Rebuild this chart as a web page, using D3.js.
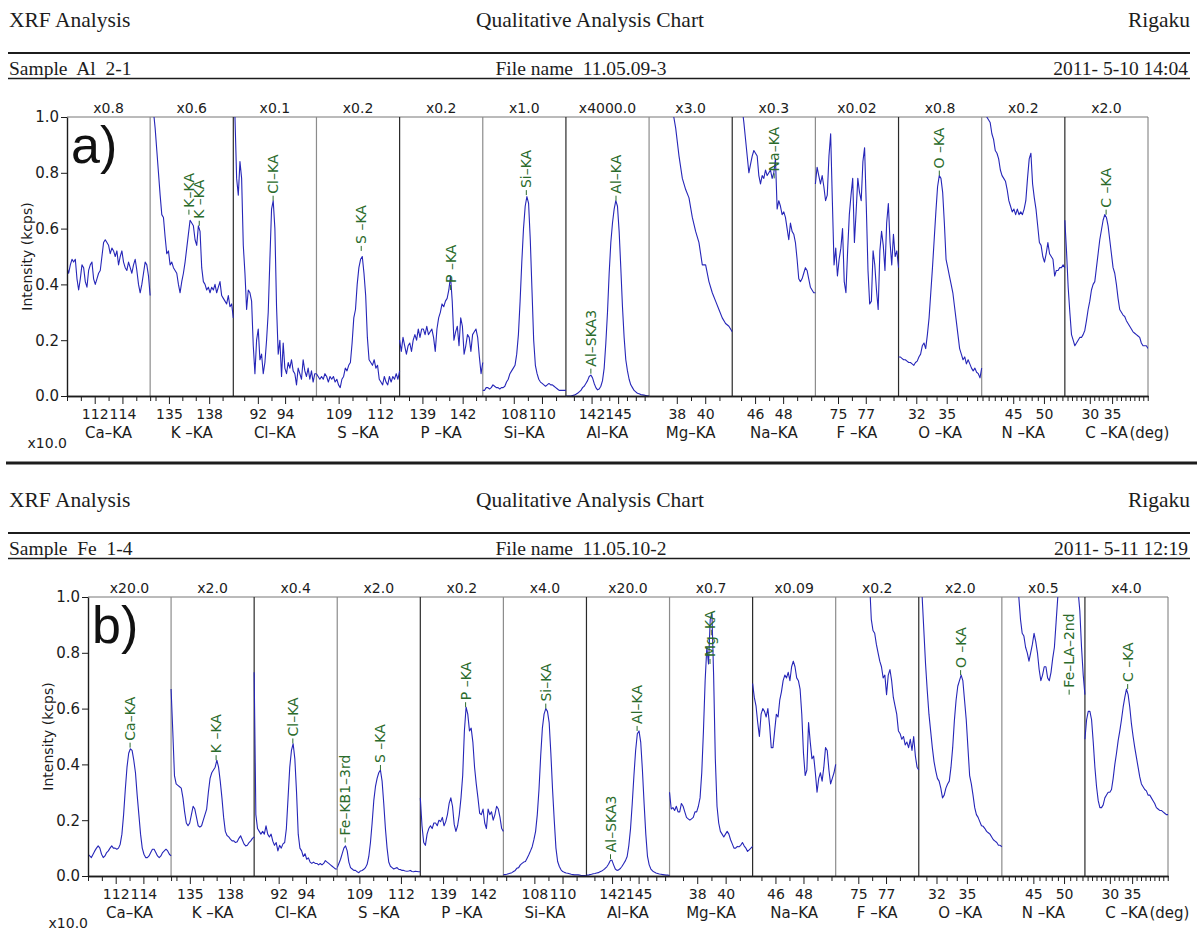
<!DOCTYPE html>
<html>

<head>
  <meta charset="utf-8">
  <title>XRF Qualitative Analysis</title>
  <style type="text/css">
    body {
      margin: 0;
      background: #fff;
    }
  </style>
</head>

<body>
  <svg id="chart" width="1197" height="931"></svg>
  <script type="text/javascript" src="https://cdn.jsdelivr.net/npm/d3@7"></script>
  <script type="text/javascript">
    // scan channels, 2-theta window of each (deg) and the labelled ticks
    var channels = ["Ca–KA", "K –KA", "Cl–KA", "S –KA", "P –KA", "Si–KA", "Al–KA",
      "Mg–KA", "Na–KA", "F –KA", "O –KA", "N –KA", "C –KA"];
    var domains = [[110, 116], [133.6, 139.8], [90.2, 96.3], [107.4, 113.4], [137.3, 143.5],
      [105.8, 111.7], [139.1, 148.5], [36.05, 41.9], [44.37, 50.3], [73.37, 79.36],
      [30.25, 38.45], [39.87, 53.4], [24.4, 43.06]];
    var tickLabels = [[112, 114], [135, 138], [92, 94], [109, 112], [139, 142], [108, 110],
      [142, 145], [38, 40], [46, 48], [75, 77], [32, 35], [45, 50], [30, 35]];

    var multA = ["x0.8", "x0.6", "x0.1", "x0.2", "x0.2", "x1.0", "x4000.0", "x3.0", "x0.3", "x0.02", "x0.8", "x0.2", "x2.0"];
    var multB = ["x20.0", "x2.0", "x0.4", "x2.0", "x0.2", "x4.0", "x20.0", "x0.7", "x0.09", "x0.2", "x2.0", "x0.5", "x4.0"];

    // sample Al 2-1 : intensity (kcps x10) over each scan window, evenly stepped
    var aCa = [0.46, 0.44, 0.47, 0.49, 0.48, 0.49, 0.42, 0.38, 0.42, 0.47, 0.46, 0.41, 0.39, 0.45, 0.47, 0.48, 0.42, 0.40, 0.42, 0.44,
      0.45, 0.50, 0.55, 0.56, 0.55, 0.54, 0.51, 0.53, 0.52, 0.50, 0.52, 0.47, 0.50, 0.52, 0.48, 0.46, 0.45, 0.48, 0.46, 0.44,
      0.47, 0.49, 0.45, 0.40, 0.37, 0.40, 0.44, 0.48, 0.47, 0.43, 0.36];
    var aK = [1.15, 1.08, 1.02, 0.96, 0.88, 0.80, 0.72, 0.65, 0.64, 0.57, 0.51, 0.52, 0.47, 0.48, 0.46, 0.45, 0.44, 0.40, 0.37, 0.41,
      0.44, 0.48, 0.53, 0.58, 0.63, 0.62, 0.61, 0.56, 0.54, 0.61, 0.59, 0.46, 0.41, 0.40, 0.38, 0.39, 0.37, 0.39, 0.38, 0.40,
      0.37, 0.39, 0.41, 0.36, 0.35, 0.34, 0.33, 0.36, 0.32, 0.33, 0.28];
    var aCl = [1.3, 1.0, 0.78, 0.72, 0.84, 0.78, 0.54, 0.44, 0.31, 0.38, 0.37, 0.34, 0.18, 0.08, 0.20, 0.24, 0.13, 0.15, 0.08, 0.12,
      0.20, 0.30, 0.49, 0.67, 0.70, 0.60, 0.32, 0.15, 0.20, 0.07, 0.19, 0.10, 0.08, 0.12, 0.10, 0.13, 0.09, 0.08, 0.04, 0.10,
      0.08, 0.06, 0.13, 0.09, 0.07, 0.10, 0.06, 0.09, 0.05, 0.08, 0.08];
    var aS = [0.08, 0.07, 0.06, 0.07, 0.06, 0.08, 0.07, 0.05, 0.07, 0.06, 0.07, 0.05, 0.06, 0.04, 0.03, 0.06, 0.07, 0.10, 0.09, 0.11,
      0.12, 0.19, 0.28, 0.31, 0.40, 0.46, 0.49, 0.50, 0.44, 0.36, 0.21, 0.13, 0.12, 0.11, 0.13, 0.10, 0.11, 0.06, 0.05, 0.04,
      0.07, 0.05, 0.04, 0.07, 0.05, 0.07, 0.06, 0.08, 0.06, 0.09];
    var aP = [0.20, 0.16, 0.21, 0.18, 0.15, 0.18, 0.19, 0.16, 0.20, 0.22, 0.20, 0.24, 0.21, 0.24, 0.24, 0.22, 0.25, 0.22, 0.23, 0.24,
      0.21, 0.16, 0.24, 0.28, 0.30, 0.33, 0.32, 0.34, 0.35, 0.38, 0.43, 0.34, 0.20, 0.23, 0.25, 0.18, 0.28, 0.25, 0.15, 0.18,
      0.22, 0.21, 0.16, 0.22, 0.23, 0.24, 0.21, 0.14, 0.08, 0.12];
    var aSi = [0.02, 0.02, 0.03, 0.03, 0.025, 0.03, 0.04, 0.035, 0.03, 0.03, 0.025, 0.03, 0.03, 0.035, 0.05, 0.06, 0.08, 0.09, 0.10, 0.11,
      0.15, 0.22, 0.34, 0.48, 0.60, 0.68, 0.715, 0.69, 0.56, 0.38, 0.20, 0.11, 0.08, 0.06, 0.05, 0.045, 0.04, 0.035, 0.04, 0.045,
      0.04, 0.04, 0.035, 0.03, 0.025, 0.02, 0.02, 0.02, 0.02, 0.02];
    var aAl = [0.0, 0.0, 0.0, 0.0, 0.002, 0.003, 0.006, 0.01, 0.015, 0.02, 0.03, 0.035, 0.045, 0.055, 0.07, 0.075, 0.065, 0.045, 0.03, 0.022,
      0.025, 0.035, 0.055, 0.10, 0.19, 0.30, 0.44, 0.55, 0.62, 0.67, 0.70, 0.68, 0.59, 0.46, 0.32, 0.21, 0.13, 0.09, 0.06, 0.04,
      0.03, 0.02, 0.015, 0.01, 0.008, 0.005, 0.004, 0.003, 0.002, 0.001, 0.0];
    var aMg = [1.8, 1.65, 1.5, 1.38, 1.27, 1.17, 1.09, 1.03, 0.96, 0.86, 0.78, 0.74, 0.71, 0.64, 0.59, 0.55, 0.47, 0.47, 0.41, 0.37,
      0.34, 0.31, 0.28, 0.26, 0.25, 0.23];
    var aNa = [1.25, 1.18, 1.12, 1.1, 1.06, 1.08, 1.03, 0.98, 0.92, 0.86, 0.80, 0.83, 0.86, 0.88, 0.87, 0.86, 0.79, 0.76, 0.79, 0.78,
      0.81, 0.79, 0.80, 0.81, 0.78, 0.80, 0.85, 0.67, 0.70, 0.68, 0.65, 0.66, 0.64, 0.60, 0.56, 0.62, 0.59, 0.58, 0.55, 0.49,
      0.42, 0.41, 0.42, 0.44, 0.46, 0.45, 0.42, 0.39, 0.38, 0.37, 0.37];
    var aF = [0.76, 0.82, 0.79, 0.76, 0.79, 0.75, 0.70, 0.72, 0.86, 0.94, 0.70, 0.47, 0.53, 0.43, 0.49, 0.53, 0.60, 0.41, 0.37, 0.52,
      0.65, 0.72, 0.78, 0.55, 0.66, 0.78, 0.73, 0.70, 0.84, 0.89, 0.68, 0.45, 0.33, 0.34, 0.52, 0.47, 0.38, 0.31, 0.52, 0.59,
      0.54, 0.45, 0.62, 0.69, 0.55, 0.47, 0.58, 0.50, 0.52, 0.46];
    var aO = [0.14, 0.14, 0.135, 0.13, 0.13, 0.125, 0.12, 0.12, 0.115, 0.11, 0.12, 0.125, 0.14, 0.15, 0.18, 0.19, 0.17, 0.22, 0.28, 0.37,
      0.46, 0.56, 0.66, 0.75, 0.79, 0.78, 0.73, 0.62, 0.49, 0.46, 0.43, 0.40, 0.37, 0.32, 0.27, 0.22, 0.17, 0.15, 0.13, 0.14,
      0.115, 0.13, 0.115, 0.10, 0.09, 0.10, 0.085, 0.08, 0.065, 0.10];
    var aN = [1.2, 1.12, 1.05, 1.0, 0.99, 0.98, 0.94, 0.92, 0.88, 0.87, 0.85, 0.81, 0.79, 0.78, 0.77, 0.74, 0.70, 0.68, 0.66, 0.67,
      0.65, 0.67, 0.65, 0.66, 0.65, 0.67, 0.70, 0.78, 0.85, 0.87, 0.76, 0.71, 0.67, 0.61, 0.55, 0.54, 0.50, 0.48, 0.51, 0.55,
      0.51, 0.50, 0.49, 0.43, 0.45, 0.45, 0.46, 0.46, 0.47, 0.46];
    var aC = [0.63, 0.52, 0.39, 0.30, 0.22, 0.20, 0.18, 0.19, 0.20, 0.21, 0.21, 0.22, 0.235, 0.27, 0.31, 0.34, 0.38, 0.40, 0.41, 0.46,
      0.51, 0.56, 0.595, 0.63, 0.65, 0.64, 0.61, 0.56, 0.51, 0.46, 0.44, 0.40, 0.35, 0.31, 0.30, 0.29, 0.285, 0.27, 0.26, 0.25,
      0.24, 0.23, 0.225, 0.22, 0.215, 0.21, 0.19, 0.18, 0.18, 0.18, 0.17];

    // sample Fe 1-4
    var bCa = [0.078, 0.072, 0.066, 0.078, 0.09, 0.10, 0.108, 0.10, 0.078, 0.066, 0.072, 0.084, 0.09, 0.10, 0.108, 0.10, 0.10, 0.096, 0.10, 0.114,
      0.15, 0.22, 0.31, 0.39, 0.44, 0.456, 0.45, 0.415, 0.37, 0.29, 0.22, 0.15, 0.10, 0.078, 0.066, 0.066, 0.072, 0.084, 0.096, 0.096,
      0.084, 0.072, 0.066, 0.072, 0.084, 0.09, 0.096, 0.09, 0.078, 0.072];
    var bK = [0.67, 0.52, 0.36, 0.33, 0.325, 0.32, 0.315, 0.28, 0.23, 0.19, 0.18, 0.19, 0.22, 0.25, 0.24, 0.21, 0.18, 0.175, 0.18, 0.20,
      0.22, 0.24, 0.30, 0.35, 0.37, 0.38, 0.39, 0.415, 0.39, 0.34, 0.28, 0.21, 0.16, 0.145, 0.14, 0.132, 0.126, 0.126, 0.12, 0.123,
      0.135, 0.144, 0.13, 0.115, 0.108, 0.11, 0.12, 0.126, 0.135, 0.14];
    var bCl = [0.73, 0.22, 0.17, 0.16, 0.15, 0.16, 0.15, 0.18, 0.15, 0.14, 0.15, 0.125, 0.11, 0.12, 0.09, 0.11, 0.10, 0.115, 0.12, 0.17,
      0.28, 0.39, 0.45, 0.474, 0.42, 0.30, 0.15, 0.10, 0.09, 0.07, 0.08, 0.06, 0.065, 0.05, 0.045, 0.05, 0.045, 0.045, 0.04, 0.045,
      0.04, 0.045, 0.055, 0.05, 0.045, 0.04, 0.035, 0.03, 0.025, 0.025];
    var bS = [0.03, 0.045, 0.06, 0.08, 0.10, 0.108, 0.09, 0.05, 0.03, 0.025, 0.02, 0.02, 0.015, 0.012, 0.018, 0.02, 0.024, 0.03, 0.042, 0.07,
      0.12, 0.19, 0.27, 0.32, 0.35, 0.37, 0.38, 0.34, 0.26, 0.17, 0.10, 0.05, 0.035, 0.03, 0.025, 0.028, 0.03, 0.024, 0.023, 0.02,
      0.02, 0.018, 0.017, 0.018, 0.02, 0.016, 0.015, 0.017, 0.016, 0.015, 0.015];
    var bP = [0.28, 0.18, 0.12, 0.11, 0.15, 0.17, 0.18, 0.17, 0.19, 0.19, 0.18, 0.20, 0.195, 0.21, 0.18, 0.195, 0.22, 0.26, 0.28, 0.25,
      0.185, 0.16, 0.18, 0.22, 0.28, 0.36, 0.52, 0.605, 0.58, 0.52, 0.53, 0.48, 0.39, 0.33, 0.28, 0.225, 0.22, 0.24, 0.19, 0.17,
      0.24, 0.22, 0.23, 0.20, 0.22, 0.25, 0.24, 0.21, 0.17, 0.16];
    var bSi = [0.005, 0.005, 0.006, 0.008, 0.01, 0.012, 0.016, 0.02, 0.028, 0.03, 0.04, 0.045, 0.05, 0.052, 0.064, 0.076, 0.09, 0.105, 0.13, 0.16,
      0.22, 0.31, 0.43, 0.53, 0.58, 0.60, 0.59, 0.55, 0.44, 0.31, 0.20, 0.10, 0.052, 0.034, 0.022, 0.016, 0.013, 0.011, 0.01, 0.008,
      0.006, 0.005, 0.004, 0.004, 0.004, 0.003, 0.002, 0.002, 0.002, 0.001];
    var bAl = [0.003, 0.003, 0.005, 0.006, 0.008, 0.009, 0.011, 0.012, 0.015, 0.018, 0.022, 0.027, 0.033, 0.042, 0.055, 0.057, 0.04, 0.025, 0.02, 0.022,
      0.027, 0.035, 0.045, 0.055, 0.07, 0.11, 0.17, 0.26, 0.36, 0.45, 0.51, 0.52, 0.48, 0.38, 0.26, 0.15, 0.07, 0.04, 0.025, 0.018,
      0.014, 0.011, 0.009, 0.007, 0.006, 0.005, 0.004, 0.003, 0.003, 0.002];
    var bMg = [0.30, 0.24, 0.245, 0.235, 0.25, 0.23, 0.23, 0.26, 0.25, 0.23, 0.21, 0.205, 0.20, 0.205, 0.21, 0.23, 0.23, 0.25, 0.28, 0.37,
      0.52, 0.70, 0.82, 0.76, 0.92, 0.94, 0.72, 0.42, 0.25, 0.19, 0.16, 0.15, 0.14, 0.15, 0.16, 0.15, 0.13, 0.115, 0.10, 0.10,
      0.106, 0.105, 0.11, 0.12, 0.108, 0.10, 0.088, 0.094, 0.10, 0.106];
    var bNa = [0.69, 0.64, 0.61, 0.55, 0.50, 0.58, 0.60, 0.59, 0.57, 0.60, 0.54, 0.46, 0.46, 0.52, 0.58, 0.57, 0.63, 0.66, 0.70, 0.72,
      0.71, 0.73, 0.70, 0.75, 0.77, 0.75, 0.71, 0.70, 0.67, 0.58, 0.44, 0.36, 0.38, 0.55, 0.48, 0.42, 0.43, 0.37, 0.30, 0.35,
      0.37, 0.34, 0.39, 0.46, 0.45, 0.38, 0.33, 0.35, 0.37, 0.40];
    var bF = [3.0, 2.8, 2.6, 2.4, 2.2, 2.0, 1.85, 1.7, 1.6, 1.5, 1.42, 1.36, 1.3, 1.25, 1.21, 1.18, 1.15, 1.12, 1.1, 1.08,
      1.05, 0.92, 0.88, 0.87, 0.83, 0.80, 0.77, 0.75, 0.71, 0.72, 0.65, 0.72, 0.74, 0.70, 0.64, 0.61, 0.58, 0.52, 0.51, 0.49,
      0.50, 0.47, 0.48, 0.46, 0.49, 0.45, 0.50, 0.43, 0.39, 0.38];
    var bO = [1.4, 1.15, 1.0, 0.88, 0.76, 0.665, 0.58, 0.52, 0.46, 0.41, 0.377, 0.35, 0.34, 0.315, 0.28, 0.29, 0.315, 0.33, 0.34, 0.39,
      0.46, 0.557, 0.63, 0.68, 0.70, 0.72, 0.70, 0.63, 0.56, 0.46, 0.36, 0.33, 0.29, 0.245, 0.22, 0.21, 0.195, 0.18, 0.178, 0.17,
      0.16, 0.155, 0.15, 0.14, 0.13, 0.125, 0.12, 0.11, 0.11, 0.105];
    var bN = [2.0, 1.85, 1.72, 1.6, 1.5, 1.4, 1.3, 1.2, 1.12, 1.06, 1.0, 0.92, 0.87, 0.86, 0.82, 0.80, 0.77, 0.80, 0.83, 0.87,
      0.84, 0.80, 0.74, 0.70, 0.72, 0.75, 0.75, 0.71, 0.70, 0.73, 0.78, 0.82, 0.91, 1.0, 1.1, 1.2, 1.3, 1.35, 1.4, 1.4,
      1.38, 1.35, 1.3, 1.2, 1.1, 1.02, 0.95, 0.82, 0.72, 0.65];
    var bC = [0.49, 0.56, 0.59, 0.59, 0.56, 0.48, 0.39, 0.32, 0.27, 0.245, 0.245, 0.255, 0.28, 0.29, 0.30, 0.30, 0.31, 0.35, 0.40, 0.44,
      0.485, 0.52, 0.56, 0.605, 0.64, 0.67, 0.65, 0.605, 0.545, 0.50, 0.46, 0.425, 0.39, 0.355, 0.33, 0.32, 0.31, 0.305, 0.29, 0.29,
      0.28, 0.27, 0.26, 0.245, 0.24, 0.235, 0.235, 0.23, 0.225, 0.22, 0.22];

    var spectraA = [aCa, aK, aCl, aS, aP, aSi, aAl, aMg, aNa, aF, aO, aN, aC];
    var spectraB = [bCa, bK, bCl, bS, bP, bSi, bAl, bMg, bNa, bF, bO, bN, bC];

    // identified lines: channel index, name, angle (deg), marker height
    var peaksA = [
      { ch: 1, text: "K–KA", deg: 136.49, v: 0.65 },
      { ch: 1, text: "K –KA", deg: 137.26, v: 0.61 },
      { ch: 2, text: "Cl–KA", deg: 93.12, v: 0.70 },
      { ch: 3, text: "S –KA", deg: 110.63, v: 0.52 },
      { ch: 4, text: "P –KA", deg: 141.1, v: 0.38 },
      { ch: 5, text: "Si–KA", deg: 108.89, v: 0.72 },
      { ch: 6, text: "Al–SKA3", deg: 141.92, v: 0.08 },
      { ch: 6, text: "Al–KA", deg: 144.76, v: 0.70 },
      { ch: 8, text: "Na–KA", deg: 47.36, v: 0.78 },
      { ch: 10, text: "O –KA", deg: 34.27, v: 0.79 },
      { ch: 12, text: "C –KA", deg: 33.66, v: 0.65 }
    ];
    var peaksB = [
      { ch: 0, text: "Ca–KA", deg: 113.04, v: 0.46 },
      { ch: 1, text: "K –KA", deg: 136.96, v: 0.415 },
      { ch: 2, text: "Cl–KA", deg: 93.04, v: 0.475 },
      { ch: 3, text: "Fe–KB1–3rd", deg: 107.97, v: 0.12 },
      { ch: 3, text: "S –KA", deg: 110.52, v: 0.38 },
      { ch: 4, text: "P –KA", deg: 140.68, v: 0.605 },
      { ch: 5, text: "Si–KA", deg: 108.81, v: 0.60 },
      { ch: 6, text: "Al–SKA3", deg: 141.82, v: 0.06 },
      { ch: 6, text: "Al–KA", deg: 144.83, v: 0.52 },
      { ch: 7, text: "Mg–KA", deg: 38.9, v: 0.76 },
      { ch: 10, text: "O –KA", deg: 34.38, v: 0.72 },
      { ch: 11, text: "Fe–LA–2nd", deg: 50.83, v: 0.65 },
      { ch: 12, text: "C –KA", deg: 34.0, v: 0.67 }
    ];

    var FONT = "'DejaVu Sans', Verdana, sans-serif",
      SERIF = "'Liberation Serif', 'Times New Roman', serif",
      BLUE = "#2626b8",
      GREEN = "#2b6b2b",
      INK = "#1c1c1c";

    var panels = [
      { tag: "a)", sample: "Sample  Al  2-1", file: "File name  11.05.09-3", date: "2011- 5-10 14:04",
        mult: multA, spectra: spectraA, peaks: peaksA, top: 117, bottom: 396, left: 67, right: 1148, shift: 0 },
      { tag: "b)", sample: "Sample  Fe  1-4", file: "File name  11.05.10-2", date: "2011- 5-11 12:19",
        mult: multB, spectra: spectraB, peaks: peaksB, top: 597, bottom: 876, left: 88, right: 1168, shift: 480 }
    ];

    var svg = d3.select("#chart");

    function label(g, x, y, s, size, anchor, family) {
      return g.append("text")
        .attr("x", x)
        .attr("y", y)
        .attr("font-size", size)
        .attr("font-family", family || FONT)
        .attr("text-anchor", anchor || "start")
        .attr("fill", INK)
        .style("white-space", "pre")
        .text(s);
    }

    function hline(g, x1, x2, y, color, width) {
      g.append("line").attr("x1", x1).attr("x2", x2).attr("y1", y).attr("y2", y)
        .attr("stroke", color).attr("stroke-width", width);
    }

    panels.forEach(drawPanel);

    // rule between the two sheets
    hline(svg, 6, 1197, 463, INK, 3);

    function drawPanel(p, k) {
      var g = svg.append("g");
      var h = p.shift;

      // sheet header
      label(g, 9, h + 27, "XRF Analysis", 21.5, "start", SERIF);
      label(g, 590, h + 27, "Qualitative Analysis Chart", 21.5, "middle", SERIF);
      label(g, 1190, h + 27, "Rigaku", 21.5, "end", SERIF);
      hline(g, 8, 1190, h + 53, INK, 2);
      label(g, 9, h + 75, p.sample, 19.5, "start", SERIF);
      label(g, 581, h + 75, p.file, 19.5, "middle", SERIF);
      label(g, 1188, h + 75, p.date, 19.5, "end", SERIF);
      hline(g, 8, 1190, h + 78.5, INK, 1.5);

      var n = channels.length;
      var cw = (p.right - p.left) / n;
      var y = d3.scaleLinear().domain([0, 1]).range([p.bottom, p.top]);
      var xs = domains.map(function (dom, i) {
        return d3.scaleLinear().domain(dom).range([p.left + i * cw, p.left + (i + 1) * cw]);
      });

      var clipId = "plot" + k;
      g.append("clipPath").attr("id", clipId).append("rect")
        .attr("x", p.left).attr("y", p.top)
        .attr("width", p.right - p.left).attr("height", p.bottom - p.top);

      // frame and window dividers
      hline(g, p.left, p.right, p.top, "#777", 1);
      g.append("line").attr("x1", p.right).attr("x2", p.right).attr("y1", p.top).attr("y2", p.bottom)
        .attr("stroke", "#777").attr("stroke-width", 1);
      d3.range(1, n).forEach(function (i) {
        var xx = p.left + i * cw;
        g.append("line").attr("x1", xx).attr("x2", xx).attr("y1", p.top).attr("y2", p.bottom)
          .attr("stroke", i % 2 ? "#8c8c8c" : "#2a2a2a").attr("stroke-width", 1.2);
      });

      // spectra
      p.spectra.forEach(function (vals, i) {
        var dom = domains[i], step = (dom[1] - dom[0]) / (vals.length - 1);
        var line = d3.line()
          .x(function (v, j) { return xs[i](dom[0] + j * step); })
          .y(function (v) { return y(v); });
        g.append("path")
          .attr("d", line(vals))
          .attr("fill", "none")
          .attr("stroke", BLUE)
          .attr("stroke-width", 1.1)
          .attr("stroke-linejoin", "round")
          .attr("clip-path", "url(#" + clipId + ")");
      });

      // line identification markers
      p.peaks.forEach(function (pk) {
        var px = xs[pk.ch](pk.deg), py = y(pk.v);
        g.append("line").attr("x1", px).attr("x2", px).attr("y1", py).attr("y2", py - 5)
          .attr("stroke", GREEN).attr("stroke-width", 1);
        g.append("text")
          .attr("transform", "translate(" + px + "," + (py - 7) + ") rotate(-90)")
          .attr("dy", "0.36em")
          .attr("font-size", 14)
          .attr("font-family", FONT)
          .attr("fill", GREEN)
          .text(pk.text);
      });

      // scale factor above each window
      p.mult.forEach(function (m, i) {
        label(g, p.left + (i + 0.5) * cw, p.top - 4, m, 14, "middle");
      });

      // angle axes
      xs.forEach(function (x, i) {
        var dom = domains[i];
        var minor = d3.range(Math.ceil(dom[0]), Math.floor(dom[1]) + 1)
          .filter(function (d) { return tickLabels[i].indexOf(d) < 0; });
        var gm = g.append("g").attr("transform", "translate(0," + p.bottom + ")")
          .call(d3.axisBottom(x).tickValues(minor).tickSize(5).tickSizeOuter(0).tickFormat(""));
        var gM = g.append("g").attr("transform", "translate(0," + p.bottom + ")")
          .call(d3.axisBottom(x).tickValues(tickLabels[i]).tickSize(8).tickSizeOuter(0)
            .tickFormat(d3.format("d")));
        [gm, gM].forEach(function (ax) {
          ax.selectAll("line").attr("stroke", INK);
          ax.select(".domain").attr("stroke", INK).attr("stroke-width", 1.6);
        });
        gM.selectAll("text").attr("y", 13).attr("font-size", 14).attr("font-family", FONT).attr("fill", INK);
        label(g, p.left + (i + 0.5) * cw, p.bottom + 42, channels[i], 15, "middle");
      });
      label(g, p.right - cw / 2 + 23, p.bottom + 42, "(deg)", 15, "start");

      // intensity axis
      var ya = g.append("g").attr("transform", "translate(" + p.left + ",0)")
        .call(d3.axisLeft(y).tickValues([0, 0.2, 0.4, 0.6, 0.8, 1]).tickFormat(d3.format(".1f"))
          .tickSize(6).tickSizeOuter(0));
      ya.select(".domain").attr("stroke", INK).attr("stroke-width", 1.4);
      ya.selectAll("line").attr("stroke", INK);
      ya.selectAll("text").attr("font-size", 15).attr("font-family", FONT).attr("fill", INK).attr("x", -8);

      g.append("text")
        .attr("transform", "translate(" + (p.left - 35) + "," + ((p.top + p.bottom) / 2) + ") rotate(-90)")
        .attr("text-anchor", "middle")
        .attr("font-size", 14)
        .attr("font-family", FONT)
        .attr("fill", INK)
        .text("Intensity (kcps)");
      label(g, p.left, p.bottom + 52, "x10.0", 14, "end");

      // sheet tag
      label(g, p.left + 4, p.top + 46, p.tag, 52, "start", "'Liberation Sans', Arial, sans-serif")
        .attr("fill", "#111");
    }
  </script>
</body>

</html>
